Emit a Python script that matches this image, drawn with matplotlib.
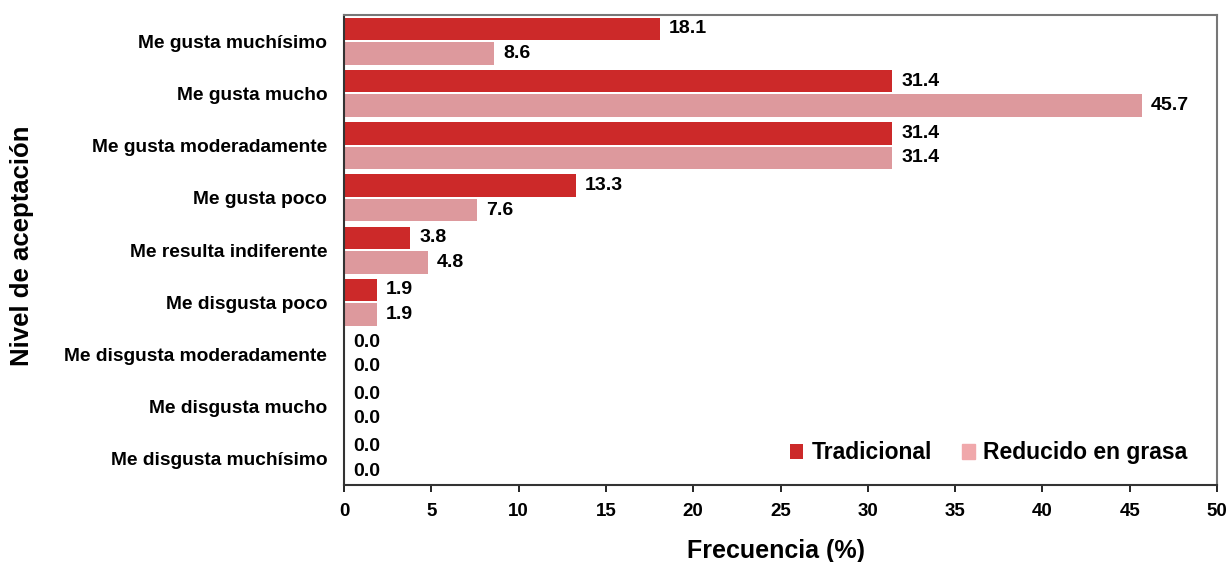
import numpy as np
import matplotlib.pyplot as plt

plt.rcParams['font.family'] = ['Liberation Sans', 'DejaVu Sans']
plt.rcParams['font.weight'] = 'bold'

# datos
categorias = ['Me gusta muchísimo', 'Me gusta mucho', 'Me gusta moderadamente',
              'Me gusta poco', 'Me resulta indiferente', 'Me disgusta poco',
              'Me disgusta moderadamente', 'Me disgusta mucho', 'Me disgusta muchísimo']
tradicional = [18.1, 31.4, 31.4, 13.3, 3.8, 1.9, 0.0, 0.0, 0.0]
reducido = [8.6, 45.7, 31.4, 7.6, 4.8, 1.9, 0.0, 0.0, 0.0]
xticks = [0, 5, 10, 15, 20, 25, 30, 35, 40, 45, 50]

color_trad = '#CC2929'
color_red = '#DD999D'

fig = plt.figure(figsize=(12.27, 5.62), dpi=100)
ax = fig.add_axes([344 / 1227, 1 - 485 / 562, (1217 - 344) / 1227, 470 / 562])

y = np.arange(len(categorias))
h = 0.43
b1 = ax.barh(y - h / 2 - 0.02, tradicional, height=h, color=color_trad, label='Tradicional')
b2 = ax.barh(y + h / 2 + 0.02, reducido, height=h, color=color_red, label='Reducido en grasa')

# etiquetas de valores
for rects, vals in ((b1, tradicional), (b2, reducido)):
    for r, v in zip(rects, vals):
        ax.annotate(f'{v:.1f}', (v, r.get_y() + r.get_height() / 2),
                    xytext=(6.5, 0), textcoords='offset points',
                    va='center', ha='left', fontsize=14, fontweight='bold')

ax.set_xlim(0, 50)
ax.set_ylim(len(categorias) - 0.5, -0.5)
ax.set_xticks(xticks)
ax.set_yticks(y)
ax.set_yticklabels(categorias)
ax.tick_params(axis='y', length=0, pad=12, labelsize=13.8)
ax.tick_params(axis='x', direction='out', length=5, width=1.2, labelsize=13.5, pad=8)

for s in ('top', 'right'):
    ax.spines[s].set_color('#777777')
    ax.spines[s].set_linewidth(1.5)
for s in ('left', 'bottom'):
    ax.spines[s].set_color('#333333')
    ax.spines[s].set_linewidth(1.5)

ax.set_xlabel('Frecuencia (%)', fontsize=18, fontweight='bold', labelpad=14)
ax.xaxis.set_label_coords(0.495, -0.115)
ax.set_ylabel('Nivel de aceptación', fontsize=18.5, fontweight='bold')
ax.yaxis.set_label_coords(-0.355, 0.51)

leg = ax.legend(loc='lower right', ncol=2, frameon=False, fontsize=16.5,
                handlelength=0.6, handleheight=0.6, handletextpad=0.35,
                columnspacing=1.3, bbox_to_anchor=(0.99, 0.0))
leg.legend_handles[1].set_color('#F0A8AB')

fig.savefig('out.png', dpi=100)
